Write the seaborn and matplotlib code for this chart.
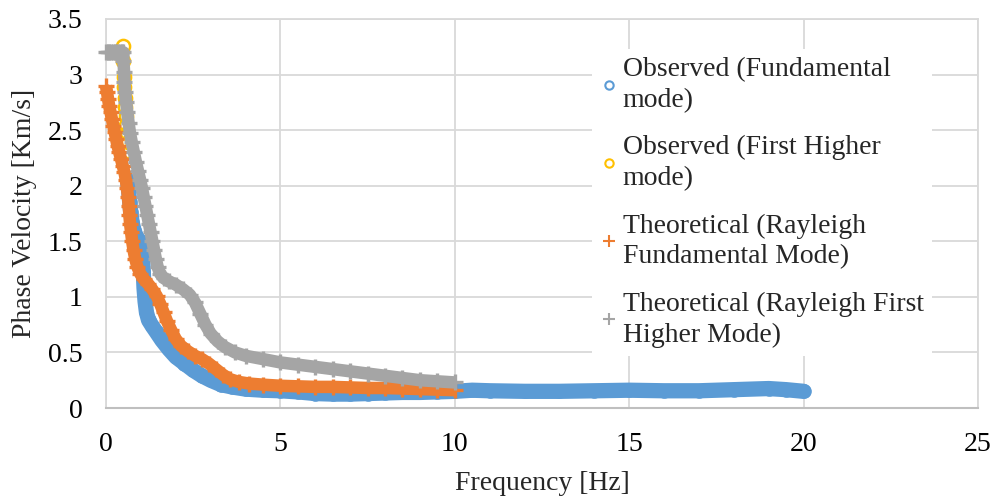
import matplotlib
matplotlib.use("Agg")
import matplotlib.pyplot as plt
from matplotlib.lines import Line2D
import seaborn as sns

# valores
obs_fund_f = [0.62, 0.65, 0.68, 0.71, 0.75, 0.80, 0.86, 0.92, 0.97, 1.02, 1.05, 1.07, 1.09, 1.12,
              1.16, 1.22, 1.32, 1.45, 1.60, 1.80, 2.00, 2.25, 2.50, 2.75, 3.00, 3.30, 3.60, 4.00,
              4.50, 5.00, 5.50, 6.00, 6.50, 7.00, 7.50, 8.00, 8.50, 9.00, 9.50, 10.0, 10.5, 11.0,
              12.0, 13.0, 14.0, 15.0, 16.0, 17.0, 18.0, 19.0, 19.5, 20.0]
obs_fund_v = [2.05, 1.95, 1.85, 1.76, 1.67, 1.60, 1.55, 1.52, 1.50, 1.45, 1.35, 1.22, 1.08, 0.96,
              0.86, 0.79, 0.74, 0.68, 0.61, 0.53, 0.46, 0.40, 0.34, 0.29, 0.25, 0.21, 0.19, 0.17,
              0.16, 0.155, 0.145, 0.13, 0.125, 0.125, 0.13, 0.135, 0.14, 0.14, 0.145, 0.15, 0.16, 0.155,
              0.15, 0.15, 0.155, 0.16, 0.155, 0.155, 0.165, 0.175, 0.165, 0.15]

obs_high_f = [0.49, 0.50, 0.51, 0.53, 0.54, 0.55, 0.57, 0.58, 0.60, 0.62, 0.64]
obs_high_v = [3.26, 3.12, 2.98, 2.89, 2.79, 2.71, 2.63, 2.55, 2.47, 2.39, 2.31]

teo_fund_f = [0.00, 0.03, 0.06, 0.09, 0.13, 0.17, 0.21, 0.25, 0.29, 0.33, 0.38, 0.43, 0.48, 0.53,
              0.57, 0.60, 0.63, 0.65, 0.67, 0.69, 0.72, 0.75, 0.79, 0.84, 0.90, 0.98, 1.08, 1.20,
              1.32, 1.45, 1.55, 1.65, 1.75, 1.87, 2.00, 2.15, 2.35, 2.55, 2.75, 2.95, 3.15, 3.35,
              3.55, 3.80, 4.10, 4.50, 5.00, 5.50, 6.00, 6.50, 7.00, 7.50, 8.00, 8.50, 9.00, 9.50, 10.0]
teo_fund_v = [2.90, 2.84, 2.78, 2.72, 2.66, 2.60, 2.54, 2.48, 2.42, 2.36, 2.30, 2.24, 2.18, 2.12,
              2.05, 1.98, 1.90, 1.82, 1.74, 1.66, 1.58, 1.50, 1.42, 1.34, 1.27, 1.21, 1.16, 1.12,
              1.07, 1.01, 0.94, 0.86, 0.78, 0.70, 0.62, 0.56, 0.51, 0.47, 0.44, 0.40, 0.35, 0.30,
              0.26, 0.235, 0.22, 0.21, 0.20, 0.195, 0.19, 0.19, 0.185, 0.18, 0.18, 0.175, 0.17, 0.165, 0.16]

teo_high_f = [0.00, 0.05, 0.10, 0.15, 0.20, 0.25, 0.30, 0.35, 0.40, 0.45, 0.50, 0.50, 0.52, 0.53,
              0.55, 0.58, 0.61, 0.65, 0.69, 0.74, 0.80, 0.86, 0.92, 0.98, 1.03, 1.08, 1.13, 1.18,
              1.23, 1.28, 1.33, 1.38, 1.43, 1.48, 1.55, 1.65, 1.80, 2.00, 2.20, 2.40, 2.55, 2.70,
              2.85, 3.00, 3.20, 3.40, 3.70, 4.00, 4.50, 5.00, 5.50, 6.00, 6.50, 7.00, 7.50, 8.00,
              8.50, 9.00, 9.50, 10.0]
teo_high_v = [3.20, 3.20, 3.20, 3.20, 3.20, 3.20, 3.20, 3.20, 3.20, 3.20, 3.20, 3.12, 3.02, 2.93,
              2.84, 2.75, 2.66, 2.56, 2.47, 2.39, 2.30, 2.21, 2.13, 2.05, 1.98, 1.90, 1.82, 1.74,
              1.66, 1.58, 1.50, 1.42, 1.34, 1.27, 1.21, 1.17, 1.14, 1.11, 1.07, 1.02, 0.95, 0.85,
              0.75, 0.67, 0.60, 0.55, 0.50, 0.47, 0.44, 0.41, 0.39, 0.37, 0.35, 0.33, 0.31, 0.29,
              0.27, 0.25, 0.24, 0.23]

rotulos = ['Observed (Fundamental\nmode)', 'Observed (First Higher\nmode)',
           'Theoretical (Rayleigh\nFundamental Mode)', 'Theoretical (Rayleigh First\nHigher Mode)']
x_ticks = [0, 5, 10, 15, 20, 25]
y_ticks = [0, 0.5, 1, 1.5, 2, 2.5, 3, 3.5]
y_tick_labels = ['0', '0.5', '1', '1.5', '2', '2.5', '3', '3.5']

azul, amarelo, laranja, cinza = '#5B9BD5', '#FFC000', '#ED7D31', '#A5A5A5'

sns.set_style('white')
plt.rcParams['font.family'] = ['Liberation Serif', 'DejaVu Serif']

fig = plt.figure(figsize=(9.95, 5.03), dpi=100)
ax = fig.add_axes([106 / 995, 1 - 408 / 503, 872 / 995, 389 / 503])

sns.lineplot(x=obs_fund_f, y=obs_fund_v, sort=False, estimator=None, ax=ax, color=azul,
             linewidth=11, solid_capstyle='round', solid_joinstyle='round',
             marker='o', markersize=9, markerfacecolor='none', markeredgecolor=azul,
             markeredgewidth=1.5, clip_on=False, zorder=3)
sns.lineplot(x=obs_high_f, y=obs_high_v, sort=False, estimator=None, ax=ax, color=amarelo,
             linestyle='none', marker='o', markersize=9.5, markerfacecolor='none',
             markeredgecolor=amarelo, markeredgewidth=1.8, clip_on=False, zorder=4)
sns.lineplot(x=teo_fund_f, y=teo_fund_v, sort=False, estimator=None, ax=ax, color=laranja,
             linewidth=9, solid_capstyle='butt', solid_joinstyle='round',
             marker='+', markersize=12, markeredgecolor=laranja,
             markeredgewidth=2.4, clip_on=False, zorder=5)
sns.lineplot(x=teo_high_f, y=teo_high_v, sort=False, estimator=None, ax=ax, color=cinza,
             linewidth=9, solid_capstyle='butt', solid_joinstyle='round',
             marker='+', markersize=12, markeredgecolor=cinza,
             markeredgewidth=2.4, clip_on=False, zorder=6)

ax.set_xlim(0, 25)
ax.set_ylim(0, 3.5)
ax.set_xticks(x_ticks)
ax.set_xticklabels([str(t) for t in x_ticks])
ax.set_yticks(y_ticks)
ax.set_yticklabels(y_tick_labels)
ax.tick_params(axis='both', length=0, labelsize=20, colors='black')
ax.tick_params(axis='x', pad=17)
ax.tick_params(axis='y', pad=17)
ax.grid(True, color='#d9d9d9', linewidth=1.3)
ax.set_axisbelow(True)
for lado in ['left', 'right', 'top']:
    ax.spines[lado].set_color('#d9d9d9')
    ax.spines[lado].set_linewidth(1.3)
ax.spines['bottom'].set_color('#bfbfbf')
ax.spines['bottom'].set_linewidth(1.5)

ax.set_xlabel('Frequency [Hz]', fontsize=20, labelpad=10)
ax.set_ylabel('Phase Velocity [Km/s]', fontsize=20, labelpad=8)

handles = [
    Line2D([], [], linestyle='none', marker='o', markersize=6, markerfacecolor='none',
           markeredgecolor=azul, markeredgewidth=1.5),
    Line2D([], [], linestyle='none', marker='o', markersize=6, markerfacecolor='none',
           markeredgecolor=amarelo, markeredgewidth=1.5),
    Line2D([], [], linestyle='none', marker='+', markersize=8, markeredgecolor=laranja,
           markeredgewidth=1.5),
    Line2D([], [], linestyle='none', marker='+', markersize=8, markeredgecolor=cinza,
           markeredgewidth=1.5),
]
leg = ax.legend(handles, rotulos, loc='upper left', bbox_to_anchor=(592 / 995, 1 - 49 / 503),
                bbox_transform=fig.transFigure, frameon=True, framealpha=1, fancybox=False,
                edgecolor='none', facecolor='white', fontsize=20, handlelength=0.6,
                handletextpad=0.2, labelspacing=0.8, borderpad=0.3, borderaxespad=0)
for t in leg.get_texts():
    t.set_linespacing(1.3)
leg.set_zorder(10)

fig.savefig('out.png', dpi=100)
